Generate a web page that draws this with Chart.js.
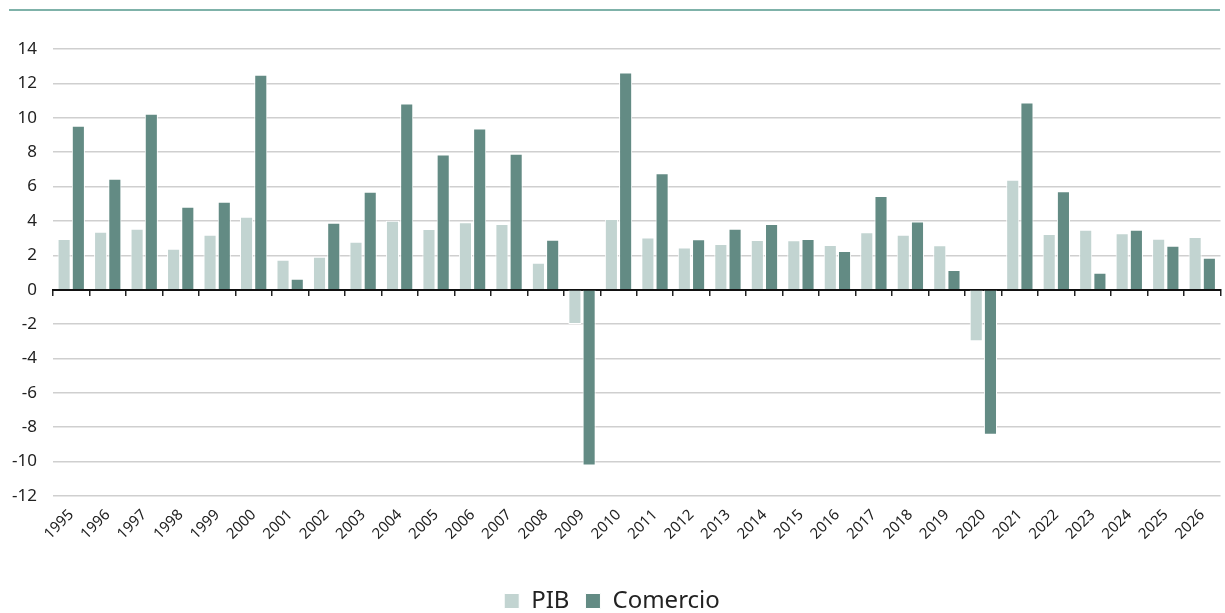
<!DOCTYPE html>
<html>
<head>
<meta charset="utf-8">
<script src="https://cdn.jsdelivr.net/npm/chart.js@4"></script>
<style>
  html, body { margin: 0; padding: 0; background: #fff; }
  #wrap { position: relative; width: 1225px; height: 613px; }
  #topline { position: absolute; left: 9px; right: 5px; top: 9px; border-top: 2px solid #7fb2a9; }
  canvas { display: block; }
</style>
</head>
<body>
<div id="wrap">
  <div id="topline"></div>
  <canvas id="chart" width="1225" height="613"></canvas>
</div>
<script>
const years = ['1995', '1996', '1997', '1998', '1999', '2000', '2001', '2002', '2003', '2004',
  '2005', '2006', '2007', '2008', '2009', '2010', '2011', '2012', '2013', '2014', '2015',
  '2016', '2017', '2018', '2019', '2020', '2021', '2022', '2023', '2024', '2025', '2026'];

const pib = [2.95, 3.37, 3.55, 2.38, 3.2, 4.24, 1.74, 1.92, 2.79, 4.01,
  3.53, 3.93, 3.82, 1.57, -2.0, 4.11, 3.03, 2.45, 2.66, 2.89, 2.87,
  2.6, 3.34, 3.2, 2.58, -3.0, 6.4, 3.24, 3.48, 3.28, 2.97, 3.07];

const comercio = [9.53, 6.45, 10.23, 4.83, 5.12, 12.5, 0.64, 3.9, 5.7, 10.83,
  7.87, 9.38, 7.91, 2.91, -10.23, 12.63, 6.78, 2.93, 3.55, 3.82, 2.95,
  2.25, 5.45, 3.97, 1.14, -8.44, 10.89, 5.72, 0.98, 3.48, 2.56, 1.86];

const yTicks = [14, 12, 10, 8, 6, 4, 2, 0, -2, -4, -6, -8, -10, -12];

const FONT = '"Noto Sans", sans-serif';

document.addEventListener('DOMContentLoaded', () => {
    const ctx = document.getElementById('chart');

    new Chart(ctx, {
        type: 'bar',
        data: {
            labels: years,
            datasets: [{
                label: 'PIB',
                data: pib,
                backgroundColor: '#c2d4d1',
                borderColor: '#ffffff',
                borderWidth: 1,
                barPercentage: 0.92,
                categoryPercentage: 0.78
            }, {
                label: 'Comercio',
                data: comercio,
                backgroundColor: '#638b84',
                borderColor: '#ffffff',
                borderWidth: 1,
                barPercentage: 0.92,
                categoryPercentage: 0.78
            }]
        },
        options: {
            responsive: false,
            animation: false,
            layout: { padding: { top: 49, right: 1, left: 0, bottom: -10 } },
            plugins: {
                legend: {
                    position: 'bottom',
                    labels: {
                        font: { family: FONT, size: 24 },
                        color: '#222',
                        boxWidth: 15,
                        boxHeight: 15,
                        padding: 16
                    }
                },
                tooltip: { enabled: false }
            },
            scales: {
                x: {
                    type: 'category',
                    offset: true,
                    afterFit(scale) { scale.height += 20; },
                    grid: { display: false, drawTicks: false },
                    border: { display: false },
                    ticks: {
                        font: { family: FONT, size: 15 },
                        color: '#222',
                        maxRotation: 45,
                        minRotation: 45,
                        autoSkip: false,
                        padding: 10
                    }
                },
                x2: {
                    type: 'category',
                    labels: years,
                    position: { y: 0 },
                    offset: true,
                    grid: {
                        offset: true,
                        drawOnChartArea: false,
                        drawTicks: true,
                        tickLength: 5,
                        color: '#222',
                        lineWidth: 1.5
                    },
                    border: { display: true, color: '#111', width: 2 },
                    ticks: { display: false }
                },
                y: {
                    min: -12,
                    max: 14,
                    afterFit(scale) { scale.width = 53; },
                    afterBuildTicks(scale) { scale.ticks = yTicks.map(v => ({ value: v })); },
                    grid: {
                        color: '#cfcfcf',
                        lineWidth: 1.5,
                        drawTicks: false
                    },
                    border: { display: false },
                    ticks: {
                        font: { family: FONT, size: 17 },
                        color: '#222',
                        padding: 16
                    }
                }
            }
        }
    });
});
</script>
</body>
</html>
